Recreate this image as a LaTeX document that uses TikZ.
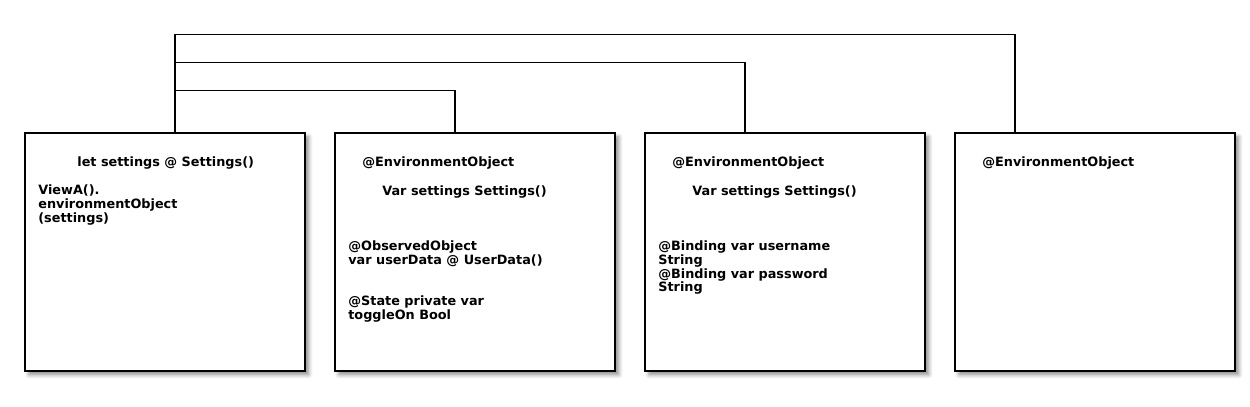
\documentclass[tikz,border=0pt]{standalone}
\usepackage{fontspec}
\setmainfont{DejaVu Sans}
\usepackage{tikz}
\usetikzlibrary{calc,shadows.blur}

\tikzset{
  viewbox/.style={draw, line width=0.75pt, fill=white, minimum width=5.6cm, minimum height=4.76cm,
    inner sep=0pt, blur shadow={shadow xshift=2.2pt, shadow yshift=-2.2pt, shadow blur radius=2.2pt, shadow opacity=45}},
  code/.style={anchor=north west, inner sep=0pt, align=left, font=\fontsize{7.3}{7.94}\selectfont\bfseries},
  wire/.style={line width=0.6pt}
}

\begin{document}
\begin{tikzpicture}[x=0.02cm,y=-0.02cm]
  \useasboundingbox (0,0) rectangle (1250,406);

  \node[viewbox] (app) at (165,252) {};
  \node[viewbox] (viewA) at (475,252) {};
  \node[viewbox] (viewB) at (785,252) {};
  \node[viewbox] (viewC) at (1095,252) {};

  % app
  \node[code] (appTitle) at (77,156) {let settings @ Settings()};
  \node[code] (appBody) at (38,184) {ViewA().\\environmentObject\\(settings)};

  % viewA
  \node[code] (aEnv) at (362,156) {@EnvironmentObject};
  \node[code] (aVar) at (382,185) {Var settings Settings()};
  \node[code] (aObs) at (348,240) {@ObservedObject\\var userData @ UserData()};
  \node[code] (aState) at (348,295) {@State private var\\toggleOn Bool};

  % viewB
  \node[code] (bEnv) at (672,156) {@EnvironmentObject};
  \node[code] (bVar) at (692,185) {Var settings Settings()};
  \node[code] (bBind) at (658,240) {@Binding var username\\String\\@Binding var password\\String};

  % viewC
  \node[code] (cEnv) at (982,156) {@EnvironmentObject};

  \draw[wire] ($(app.north)+(10,0)$) -- ++(0,-42) -| ($(viewA.north)+(-20,0)$);
  \draw[wire] ($(app.north)+(10,0)$) -- ++(0,-70) -| ($(viewB.north)+(-40,0)$);
  \draw[wire] ($(app.north)+(10,0)$) -- ++(0,-98) -| ($(viewC.north)+(-80,0)$);
\end{tikzpicture}
\end{document}
